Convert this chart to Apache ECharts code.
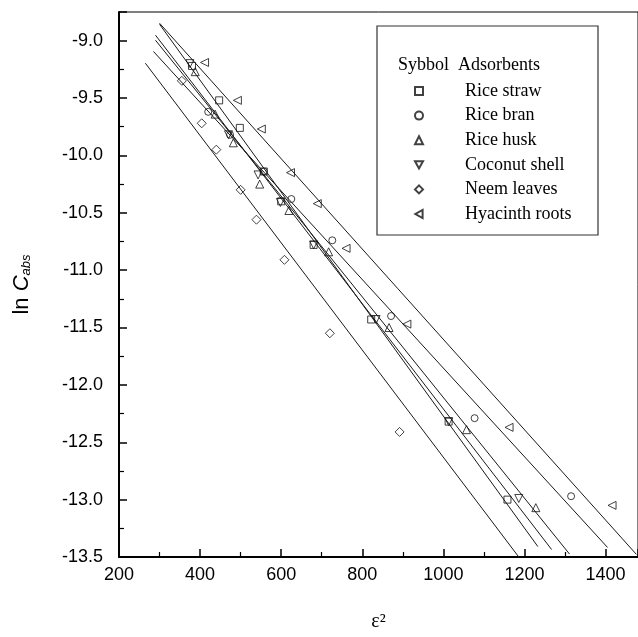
<!DOCTYPE html>
<html>
<head>
<meta charset="utf-8">
<script src="https://cdn.jsdelivr.net/npm/echarts@6/dist/echarts.min.js"></script>
<style>html,body{margin:0;padding:0;background:#fff}#c{width:638px;height:637px}</style>
</head>
<body>
<div id="c"></div>
<script>
// ---- data ----
const seriesNames = ['Rice straw', 'Rice bran', 'Rice husk', 'Coconut shell', 'Neem leaves', 'Hyacinth roots'];

const strawX = [380, 447, 498, 557, 600, 680, 822, 1013, 1158];
const strawY = [-9.22, -9.52, -9.76, -10.14, -10.40, -10.78, -11.43, -12.32, -13.00];
const branX = [420, 474, 557, 625, 726, 871, 1077, 1315];
const branY = [-9.62, -9.82, -10.14, -10.38, -10.74, -11.40, -12.29, -12.97];
const huskX = [388, 437, 482, 547, 619, 717, 866, 1057, 1228];
const huskY = [-9.27, -9.64, -9.89, -10.25, -10.48, -10.84, -11.50, -12.39, -13.07];
const coconutX = [375, 470, 543, 598, 680, 834, 1013, 1186];
const coconutY = [-9.20, -9.82, -10.17, -10.41, -10.78, -11.43, -12.32, -12.99];
const neemX = [355, 404, 440, 500, 539, 608, 720, 892];
const neemY = [-9.35, -9.72, -9.95, -10.30, -10.56, -10.91, -11.55, -12.41];
const hyacinthX = [411, 492, 551, 623, 689, 760, 910, 1162, 1416];
const hyacinthY = [-9.19, -9.52, -9.77, -10.15, -10.42, -10.81, -11.47, -12.37, -13.05];

// fitted lines: start/end points per series (same order as seriesNames)
const fitStartX = [300, 285, 290, 290, 265, 300];
const fitStartY = [-8.857, -9.094, -8.996, -8.952, -9.196, -8.848];
const fitEndX = [1233, 1405, 1311, 1267, 1186, 1476];
const fitEndY = [-13.409, -13.417, -13.474, -13.435, -13.50, -13.477];

const xTicks = [200, 400, 600, 800, 1000, 1200, 1400];
const yTicks = [-9.0, -9.5, -10.0, -10.5, -11.0, -11.5, -12.0, -12.5, -13.0, -13.5];

// ---- build ----
const xs = [strawX, branX, huskX, coconutX, neemX, hyacinthX];
const ys = [strawY, branY, huskY, coconutY, neemY, hyacinthY];
const symbols = [
  'rect', 'circle', 'triangle',
  'path://M0,0 L10,0 L5,9 Z',
  'diamond',
  'path://M9,0 L9,10 L0,5 Z'
];
const sizes = [7, 7, 8, 8, 9, 8];
const zip = (a, b) => a.map((v, i) => [v, b[i]]);

const series = [];
for (let i = 0; i < 6; i++) {
  series.push({
    type: 'line',
    data: [[fitStartX[i], fitStartY[i]], [fitEndX[i], fitEndY[i]]],
    symbol: 'none',
    silent: true,
    clip: false,
    lineStyle: { color: '#1a1a1a', width: 1 },
    z: 2
  });
}
for (let i = 0; i < 6; i++) {
  series.push({
    name: seriesNames[i],
    type: 'scatter',
    data: zip(xs[i], ys[i]),
    symbol: symbols[i],
    symbolSize: sizes[i],
    itemStyle: { color: 'rgba(255,255,255,0)', borderColor: '#111', borderWidth: 1 },
    z: 3
  });
}

const SANS = '"Liberation Sans", Arial, Helvetica, sans-serif';
const SERIF = '"Liberation Serif", "Times New Roman", serif';

const chart = echarts.init(document.getElementById('c'), null, { renderer: 'canvas' });
chart.setOption({
  animation: false,
  backgroundColor: '#fff',
  grid: { left: 119, right: -1, top: 12, bottom: 69, show: true, borderColor: '#000', borderWidth: 1 },
  xAxis: {
    type: 'value', min: 200, max: 1480, interval: 200,
    axisLine: { show: true, lineStyle: { color: '#000', width: 2 } },
    axisTick: { inside: true, length: 8, lineStyle: { color: '#000', width: 1.5 } },
    minorTick: { show: true, splitNumber: 2, length: 5, lineStyle: { color: '#000', width: 1.2 } },
    splitLine: { show: false },
    axisLabel: {
      color: '#000', fontSize: 18, fontFamily: SANS, margin: 9,
      showMaxLabel: false,
      formatter: v => (xTicks.indexOf(v) >= 0 ? String(v) : '')
    },
    name: 'ε²', nameLocation: 'middle', nameGap: 55,
    nameTextStyle: { color: '#000', fontSize: 20, fontFamily: SERIF }
  },
  yAxis: {
    type: 'value', min: -13.5, max: -8.75, interval: 0.5,
    axisLine: { show: true, lineStyle: { color: '#000', width: 2 } },
    axisTick: { inside: true, length: 8, lineStyle: { color: '#000', width: 1.5 } },
    minorTick: { show: true, splitNumber: 2, length: 5, lineStyle: { color: '#000', width: 1.2 } },
    splitLine: { show: false },
    axisLabel: {
      color: '#000', fontSize: 18, fontFamily: SANS, margin: 16,
      showMaxLabel: false,
      formatter: v => (yTicks.some(t => Math.abs(t - v) < 1e-9) ? v.toFixed(1) : '')
    },
    name: '{a|ln }{b|C}{c|abs}', nameLocation: 'middle', nameGap: 86,
    nameTextStyle: {
      color: '#000', fontFamily: SANS,
      rich: {
        a: { fontSize: 22, fontFamily: SANS, color: '#000' },
        b: { fontSize: 22, fontFamily: SANS, fontStyle: 'italic', color: '#000' },
        c: { fontSize: 13, fontFamily: SANS, fontStyle: 'italic', color: '#000', padding: [10, 0, 0, 0], verticalAlign: 'bottom' }
      }
    }
  },
  legend: {
    data: seriesNames,
    orient: 'vertical',
    left: 409, top: 77,
    itemWidth: 8, itemHeight: 8, itemGap: 6.6,
    textStyle: { color: '#000', fontSize: 18, fontFamily: SERIF, padding: [0, 0, 0, 37] },
    selectedMode: false
  },
  graphic: [
    { type: 'rect', shape: { x: 377, y: 26, width: 221, height: 209 },
      style: { fill: 'none', stroke: '#333', lineWidth: 1.2 }, z: 10 },
    { type: 'text', left: 398, top: 56,
      style: { text: 'Sybbol  Adsorbents', fill: '#000', font: '18px ' + SERIF }, z: 10 }
  ],
  series: series
});
</script>
</body>
</html>
